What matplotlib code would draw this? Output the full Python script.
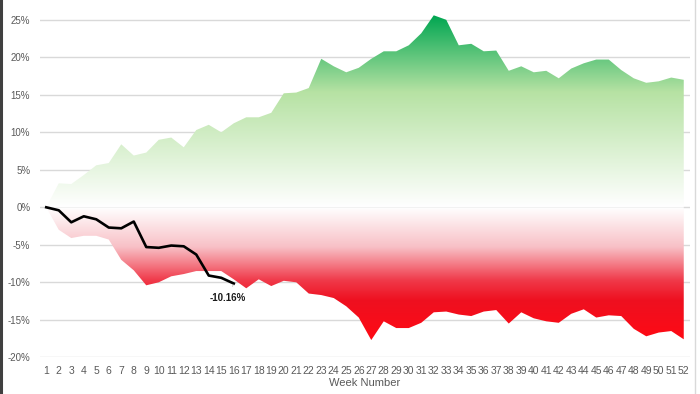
import numpy as np
import matplotlib
matplotlib.use("Agg")
import matplotlib.pyplot as plt
from matplotlib.colors import LinearSegmentedColormap
from matplotlib.lines import Line2D

plt.rcParams['font.family'] = ['Liberation Sans', 'DejaVu Sans']

weeks = list(range(1, 53))

best = [0, 3.2, 3.1, 4.3, 5.6, 5.9, 8.4, 6.9, 7.3, 9.0,
        9.3, 8.0, 10.3, 11.0, 10.0, 11.2, 12.0, 12.0, 12.6, 15.2,
        15.3, 15.9, 19.8, 18.8, 18.0, 18.6, 19.8, 20.8, 20.8, 21.6,
        23.2, 25.6, 25.0, 21.6, 21.8, 20.8, 20.9, 18.2, 18.8, 18.0,
        18.2, 17.2, 18.5, 19.2, 19.7, 19.7, 18.3, 17.2, 16.6, 16.8,
        17.3, 17.0]

worst = [0, -3.0, -4.1, -3.8, -3.8, -4.3, -7.0, -8.4, -10.4, -10.0,
         -9.2, -8.9, -8.5, -8.5, -8.5, -9.6, -10.8, -9.6, -10.5, -9.8,
         -10.0, -11.5, -11.7, -12.1, -13.2, -14.7, -17.7, -15.2, -16.1, -16.1,
         -15.4, -14.0, -13.9, -14.3, -14.5, -13.9, -13.7, -15.5, -14.0, -14.8,
         -15.2, -15.4, -14.2, -13.6, -14.7, -14.4, -14.5, -16.2, -17.2, -16.7,
         -16.5, -17.6]

current = [0, -0.4, -2.0, -1.2, -1.6, -2.7, -2.8, -1.9, -5.3, -5.4,
           -5.1, -5.2, -6.3, -9.1, -9.4, -10.16]

yticks = [-20, -15, -10, -5, 0, 5, 10, 15, 20, 25]

greens = LinearSegmentedColormap.from_list(
    "greens", [(0, "#ffffff"), (0.6, "#b6e2a3"), (1.0, "#00a651")])
reds = LinearSegmentedColormap.from_list(
    "reds", [(0, "#ff0a14"), (0.3, "#ee1020"), (0.45, "#f03a4a"),
             (0.7, "#f8c0c6"), (1.0, "#ffffff")])

fig = plt.figure(figsize=(7, 3.94), dpi=100)
ax = fig.add_axes([40 / 700, 36.7 / 394, 650 / 700, 352.5 / 394])

# horizontal gridlines behind everything
for t in yticks:
    ax.axhline(t, color="#d9d9d9", lw=1, zorder=0)

grad = np.linspace(0, 1, 256).reshape(-1, 1)

top = max(best)
fb = ax.fill_between(weeks, 0, best, facecolor="none", edgecolor="none")
im = ax.imshow(grad, cmap=greens, aspect="auto", origin="lower",
               extent=(0.5, 52.5, 0, top), zorder=1)
im.set_clip_path(fb.get_paths()[0], transform=ax.transData)

bot = min(worst)
fr = ax.fill_between(weeks, worst, 0, facecolor="none", edgecolor="none")
im2 = ax.imshow(grad, cmap=reds, aspect="auto", origin="lower",
                extent=(0.5, 52.5, bot, 0), zorder=1)
im2.set_clip_path(fr.get_paths()[0], transform=ax.transData)

ax.plot(weeks[:len(current)], current, color="black", lw=1.9, zorder=3,
        solid_joinstyle="round")

ax.annotate(f"{current[-1]:.2f}%", xy=(len(current), current[-1]),
            xytext=(15.5, -12.1), ha="center", va="center",
            fontsize=7, fontweight="bold", color="#1a1a1a",
            arrowprops=dict(arrowstyle="-", color="#bfbfbf", lw=0.6,
                            shrinkA=3, shrinkB=1), zorder=4)

ax.set_xlim(0.5, 52.5)
ax.set_ylim(-20, 27)
ax.set_xticks(weeks)
ax.set_xticklabels([str(w) for w in weeks])
ax.set_yticks(yticks)
ax.set_yticklabels([f"{t}%" for t in yticks])
ax.tick_params(axis="both", length=0, labelcolor="#595959")
ax.tick_params(axis="x", pad=6, labelsize=7.5)
ax.tick_params(axis="y", pad=7, labelsize=7)
ax.set_xlabel("Week Number", fontsize=8, color="#595959", labelpad=2)
for s in ax.spines.values():
    s.set_visible(False)

# frame edges of the original screenshot
fig.add_artist(Line2D([1 / 700, 1 / 700], [0, 1], color="#404040", lw=2.2))
fig.add_artist(Line2D([694.5 / 700, 694.5 / 700], [0, 1], color="#d9d9d9", lw=1))

fig.savefig("out.png", dpi=100)
